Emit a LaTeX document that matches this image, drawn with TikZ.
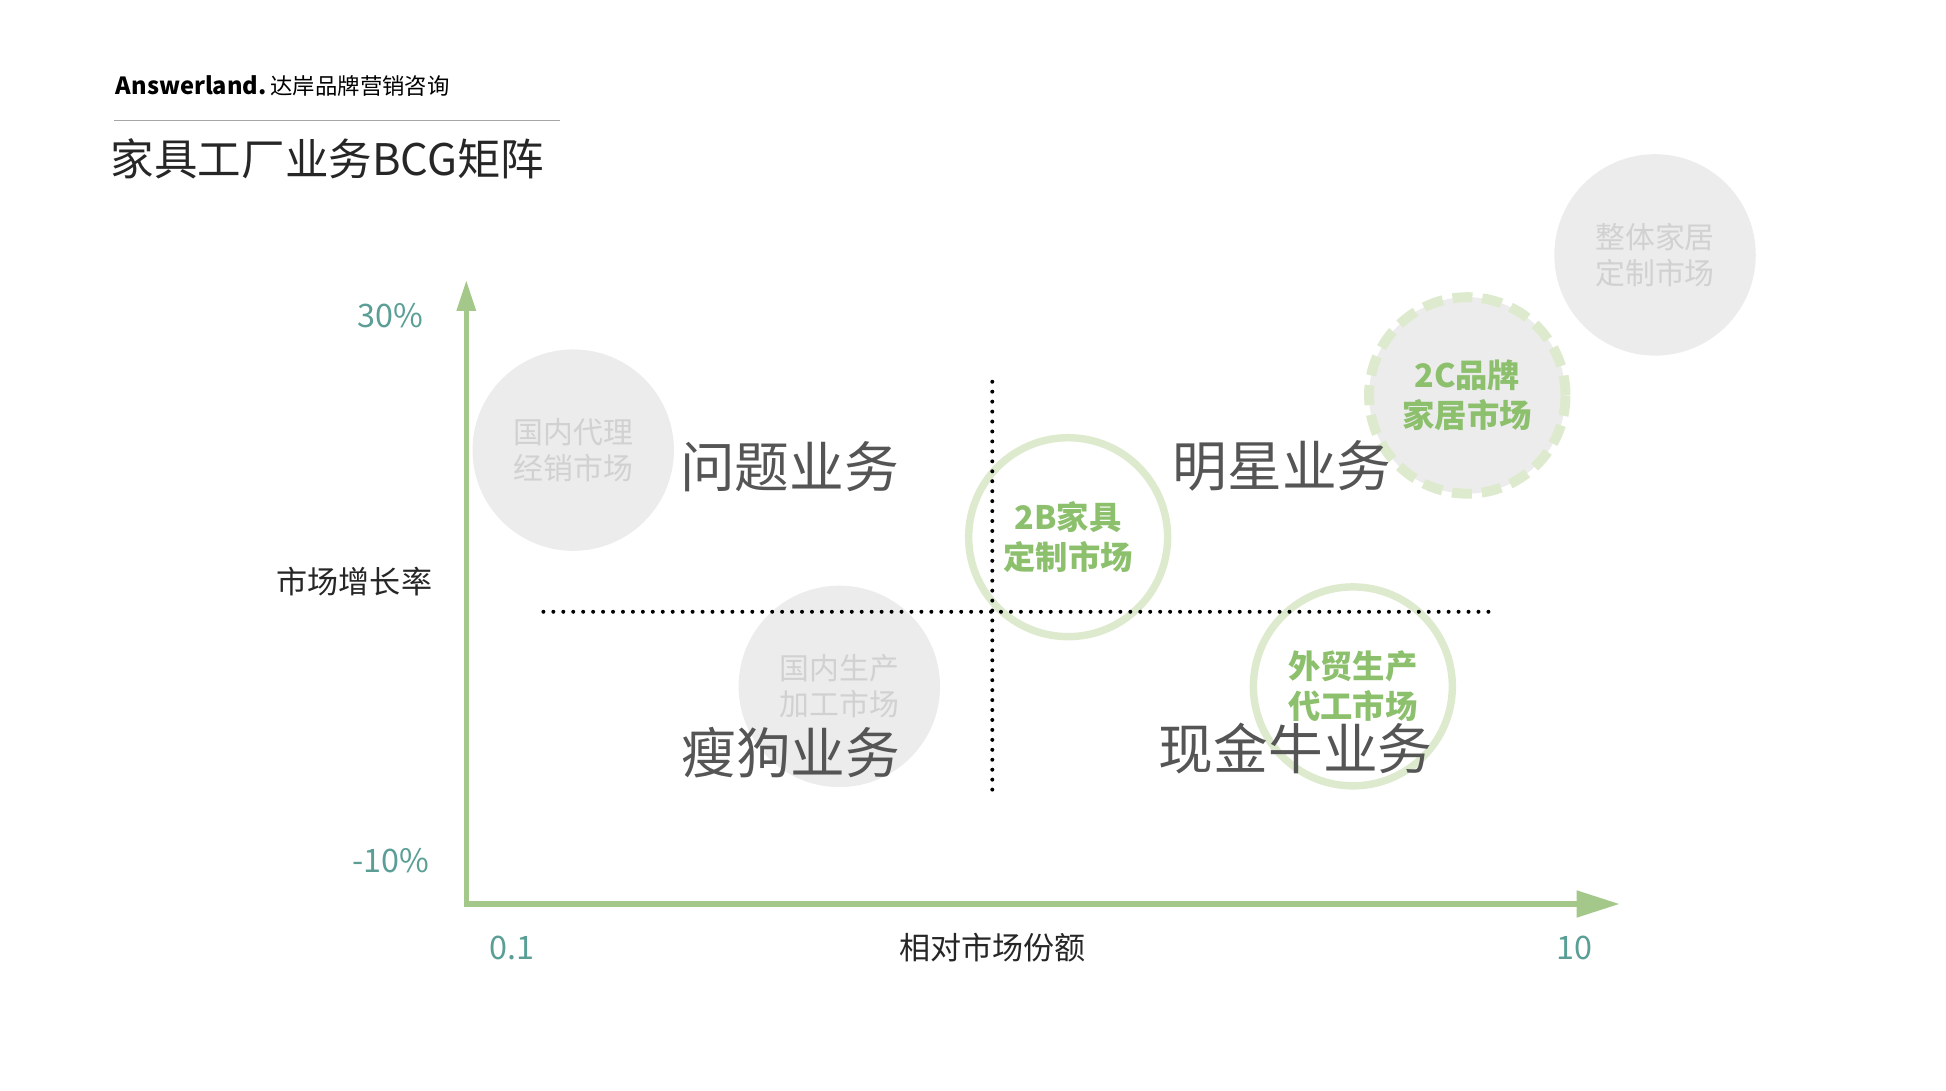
\documentclass[tikz,border=0pt]{standalone}
\usepackage{fontspec}
\setmainfont{Noto Sans CJK SC}
\begin{document}
\begin{tikzpicture}[x=1pt,y=-1pt,
  fs/.style={font=\fontsize{#1pt}{1.2em}\selectfont},
  graycirc/.style={circle,fill=cgray,minimum size=162pt,inner sep=0pt,align=center,text=ctext,font=\fontsize{24pt}{29pt}\selectfont},
  ringcirc/.style={circle,draw=cring,line width=6pt,minimum size=160pt,inner sep=0pt},
  gtext/.style={align=center,text=cgreen,font=\fontsize{26pt}{32pt}\selectfont\bfseries},
  quad/.style={text=cdark,fs=44},
  axlab/.style={text=cteal,fs=26},
  dotline/.style={line width=3.2pt,dash pattern=on 0pt off 8pt,line cap=round,black}]
\definecolor{cgray}{HTML}{EDECED}
\definecolor{ctext}{HTML}{D2D1D2}
\definecolor{cring}{HTML}{DDEACE}
\definecolor{cgreen}{HTML}{8CC06D}
\definecolor{caxis}{HTML}{A4C78A}
\definecolor{cteal}{HTML}{5A9E96}
\definecolor{cdark}{HTML}{555555}
\useasboundingbox (0,0) rectangle (1565,877);
% header
\node[anchor=west,inner sep=0pt,font=\fontsize{19pt}{22pt}\selectfont] (brand) at (93,69) {\textbf{Answerland.}\,{\fontsize{18pt}{20pt}\selectfont 达岸品牌营销咨询}};
\draw[gray!70,line width=1pt] (92,97) -- (450,97);
\node[anchor=west,inner sep=0pt,fs=35,text=black!85] (title) at (89,128) {家具工厂业务BCG矩阵};
% circles
\node[graycirc] (c1) at (461,362) {国内代理\\经销市场};
\node[graycirc] (c2) at (675,552) {国内生产\\加工市场};
\node[graycirc] (c3) at (1331,205) {整体家居\\定制市场};
\node[ringcirc] (c4) at (859,432) {};
\node[ringcirc] (c5) at (1088,552) {};
\node[circle,fill=cgray,draw=cring,line width=8pt,dash pattern=on 16pt off 8pt,minimum size=158pt,inner sep=0pt] (c6) at (1180,318) {};
% axes
\coordinate (o) at (375,727);
\coordinate (ytop) at (375,226);
\coordinate (xend) at (1302,727);
\draw[caxis,line width=4.5pt] (375,729) -- (375,245);
\fill[caxis] (ytop) -- (383,250) -- (367,250) -- cycle;
\draw[caxis,line width=4.5pt] (373,727) -- (1275,727);
\fill[caxis] (xend) -- (1268,716) -- (1268,738) -- cycle;
% dotted
\coordinate (h1) at (437,492); \coordinate (h2) at (1200,492);
\coordinate (v1) at (798,307); \coordinate (v2) at (798,635);
\draw[dotline] (h1) -- (h2);
\draw[dotline] (v1) -- (v2);
% quadrant labels
\node[quad] (q1) at (635,375) {问题业务};
\node[quad] (q2) at (1031,375) {明星业务};
\node[quad] (q3) at (636,605) {瘦狗业务};
\node[quad] (q4) at (1042,602) {现金牛业务};
% circle texts
\node[gtext] (t4) at (c4) {2B家具\\定制市场};
\node[gtext] (t5) at (c5) {外贸生产\\代工市场};
\node[gtext] (t6) at (c6) {2C品牌\\家居市场};
% axis labels
\node[axlab] (l30) at (314,254) {30\%};
\node[axlab] (l10) at (314,692) {-10\%};
\node[axlab] (l01) at (412,762) {0.1};
\node[axlab] (l100) at (1266,762) {10};
\node[fs=25,text=black!85] (ylab) at (285,468) {市场增长率};
\node[fs=25,text=black!85] (xlab) at (798,762) {相对市场份额};
\end{tikzpicture}
\end{document}
